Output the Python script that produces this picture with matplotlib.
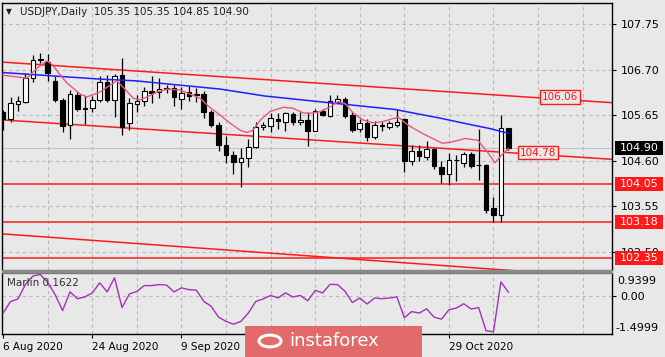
import matplotlib
matplotlib.use('Agg')
import matplotlib.pyplot as plt
import matplotlib.transforms as mtransforms
from matplotlib.patches import Rectangle, Circle
import pandas as pd

# ---------------- data ----------------
dates = pd.bdate_range('2020-08-06', '2020-11-10')

opens = [105.72, 105.55, 105.90, 105.96, 106.50, 106.94, 106.88, 106.43, 105.99, 105.42,
         106.11, 105.80, 105.82, 105.99, 106.42, 106.00, 106.57, 105.46, 105.90, 105.97,
         106.20, 106.18, 106.28, 106.27, 106.03, 106.18, 106.13, 106.13, 105.72, 105.43,
         104.96, 104.73, 104.56, 104.65, 104.92, 105.38, 105.40, 105.55, 105.50, 105.68,
         105.48, 105.53, 105.29, 105.75, 105.63, 105.96, 106.01, 105.65, 105.33, 105.47,
         105.14, 105.43, 105.38, 105.42, 105.55, 104.58, 104.83, 104.69, 104.86, 104.46,
         104.30, 104.61, 104.55, 104.75, 104.50, 104.50, 103.50, 103.35, 105.35]
highs = [105.76, 106.07, 106.10, 106.61, 107.03, 107.07, 107.05, 106.55, 106.05, 106.22,
         106.18, 106.10, 106.10, 106.55, 106.57, 106.60, 106.97, 106.05, 106.12, 106.30,
         106.55, 106.50, 106.35, 106.35, 106.30, 106.33, 106.28, 106.20, 105.76, 105.48,
         105.17, 104.82, 104.90, 105.10, 105.49, 105.48, 105.70, 105.70, 105.73, 105.73,
         105.72, 105.72, 105.80, 105.80, 106.12, 106.11, 106.07, 105.73, 105.57, 105.55,
         105.52, 105.50, 105.52, 105.78, 105.58, 104.95, 104.95, 105.05, 104.88, 104.58,
         104.77, 104.73, 104.80, 104.80, 105.34, 104.53, 103.76, 105.65, 105.35]
lows = [105.30, 105.48, 105.75, 105.93, 106.42, 106.85, 106.44, 105.95, 105.25, 105.10,
        105.75, 105.45, 105.73, 105.95, 105.95, 105.60, 105.20, 105.30, 105.72, 105.85,
        105.93, 106.05, 106.15, 105.87, 105.80, 105.98, 105.95, 105.58, 105.38, 104.83,
        104.55, 104.30, 104.00, 104.45, 104.88, 105.30, 105.26, 105.33, 105.28, 105.42,
        105.42, 104.94, 105.28, 105.62, 105.60, 105.92, 105.58, 105.25, 105.26, 105.05,
        105.10, 105.28, 105.33, 105.38, 104.34, 104.50, 104.58, 104.62, 104.40, 104.08,
        104.03, 104.12, 104.45, 104.42, 104.15, 103.40, 103.18, 103.19, 104.85]
closes = [105.56, 105.94, 105.97, 106.50, 106.92, 106.92, 106.61, 105.99, 105.40, 106.13,
          105.80, 105.82, 106.00, 106.42, 106.00, 106.55, 105.38, 105.92, 105.97, 106.20,
          106.17, 106.24, 106.25, 106.07, 106.15, 106.10, 106.12, 105.71, 105.43, 104.96,
          104.73, 104.56, 104.66, 104.92, 105.38, 105.42, 105.58, 105.52, 105.69, 105.48,
          105.53, 105.28, 105.74, 105.66, 105.97, 106.03, 105.62, 105.30, 105.47, 105.14,
          105.43, 105.40, 105.46, 105.50, 104.60, 104.83, 104.70, 104.86, 104.48, 104.30,
          104.61, 104.62, 104.75, 104.48, 104.51, 103.47, 103.35, 105.35, 104.90]

# blue moving average (bar position, price)
blue_pos = [0, 13.0, 17.8, 29.2, 35.2, 43.6, 52.7, 58.8, 63.2, 65.5, 68.0]
blue_val = [106.63, 106.48, 106.44, 106.25, 106.09, 105.94, 105.78, 105.58, 105.42, 105.34, 105.23]

# pink moving average (bar position, price)
pink_pos = [0, 3.2, 4.6, 5.9, 6.7, 7.7, 8.6, 10.4, 11.3, 13.0, 14.4, 15.3, 16.1, 17.5, 18.4,
            19.4, 20.7, 22.1, 23.8, 25.2, 26.5, 27.8, 29.2, 30.5, 31.9, 32.8, 33.6, 34.6,
            35.9, 37.7, 39.0, 40.4, 41.3, 42.7, 44.0, 45.1, 46.0, 47.1, 48.4, 49.8, 51.1,
            52.5, 53.2, 54.5, 56.4, 59.1, 60.4, 62.2, 63.9, 65.3, 66.2, 67.1, 68.0]
pink_val = [106.57, 106.50, 106.74, 106.90, 106.80, 106.57, 106.39, 106.13, 106.07, 106.18,
            106.34, 106.44, 106.30, 106.04, 106.00, 106.07, 106.18, 106.25, 106.23, 106.13,
            106.04, 105.83, 105.65, 105.47, 105.30, 105.25, 105.30, 105.53, 105.73, 105.83,
            105.81, 105.70, 105.69, 105.73, 105.84, 105.96, 105.92, 105.70, 105.54, 105.47,
            105.50, 105.57, 105.60, 105.42, 105.23, 105.00, 105.03, 105.11, 105.07, 104.77,
            104.55, 104.73, 104.88]

# Marlin oscillator (one value per bar)
marlin = [-0.67, -0.21, -0.11, 0.46, 0.80, 0.86, 0.55, 0.06, -0.57, 0.17,
          -0.10, -0.03, 0.13, 0.53, 0.17, 0.73, -0.45, 0.09, 0.19, 0.42,
          0.42, 0.46, 0.44, 0.17, 0.33, 0.26, 0.24, -0.20, -0.40, -0.83,
          -1.00, -1.11, -1.00, -0.67, -0.21, -0.11, 0.03, -0.07, 0.13, -0.03,
          0.03, -0.18, 0.23, 0.13, 0.47, 0.46, 0.20, -0.25, -0.07, -0.31,
          -0.07, -0.10, -0.07, -0.03, -0.85, -0.61, -0.67, -0.50, -0.83, -0.91,
          -0.54, -0.47, -0.30, -0.51, -0.45, -1.37, -1.41, 0.57, 0.16]

# trend lines: (bar, price) end points
upper_line = ([0, 82], [106.87, 105.935])
middle_line = ([0, 82], [105.537, 104.63])
lower_line = ([0, 82], [102.91, 101.90])
levels = [104.05, 103.18, 102.35]
bid = 104.90

price_ticks = [102.50, 103.55, 104.60, 105.65, 106.70, 107.75]
date_ticks = [0, 12, 24, 36, 48, 60]
date_shown = [True, True, True, False, False, True]   # two labels hidden under the logo
grid_x = [6, 12, 18, 24, 30, 36, 42, 48, 54, 60, 66, 72, 78]

title = "USDJPY,Daily  105.35 105.35 104.85 104.90"
ind_title = "Marlin 0.1622"

# ---------------- layout ----------------
W, H = 665, 357
BG = '#e8e8e8'
GRID = '#b9b9b9'
plt.rcParams['font.family'] = ['DejaVu Sans']

fig = plt.figure(figsize=(W / 100, H / 100), dpi=100, facecolor=BG)


def fx(px):
    return px / W


def fy(py):
    return 1 - py / H


ax = fig.add_axes([fx(2), fy(269.5), fx(612) - fx(2), fy(3) - fy(269.5)], facecolor=BG)
ax2 = fig.add_axes([fx(2), fy(334), fx(612) - fx(2), fy(272.5) - fy(334)], facecolor=BG)

xmin, xmax = -0.15, 81.95
ax.set_xlim(xmin, xmax)
ax.set_ylim(102.09, 108.234)
ax2.set_xlim(xmin, xmax)
ax2.set_ylim(-1.4999, 0.9399)

# grid
for g in grid_x:
    ax.axvline(g, color=GRID, lw=0.8, ls=(0, (3, 3)), zorder=0.5)
    ax2.axvline(g, color=GRID, lw=0.8, ls=(0, (3, 3)), zorder=0.5)
for p in price_ticks:
    ax.axhline(p, color=GRID, lw=0.8, ls=(0, (3, 3)), zorder=0.5)
ax2.axhline(0.0, color=GRID, lw=0.8, ls=(0, (3, 3)), zorder=0.5)

# bid line
ax.axhline(bid, color='#c4c4c4', lw=0.8, zorder=0.6)

# horizontal levels
for lv in levels:
    ax.axhline(lv, color='#ff1a1a', lw=1.1, zorder=2)


def extend(line):
    (x0, x1), (y0, y1) = line
    s = (y1 - y0) / (x1 - x0)
    return [xmin, xmax], [y0 + s * (xmin - x0), y0 + s * (xmax - x0)]


for ln in (upper_line, middle_line, lower_line):
    xs, ys = extend(ln)
    ax.plot(xs, ys, color='#ff1a1a', lw=1.1, zorder=2)

# candles
idx = list(range(len(dates)))
for i in idx:
    o, h, l, c = opens[i], highs[i], lows[i], closes[i]
    ax.plot([i, i], [l, h], color='black', lw=0.9, zorder=3, solid_capstyle='butt')
    bottom = min(o, c)
    height = abs(c - o)
    fc = 'white' if c > o else 'black'
    ax.bar(i, height, bottom=bottom, width=0.62, color=fc, edgecolor='black',
           linewidth=0.8, zorder=3.5)

# moving averages
ax.plot(blue_pos, blue_val, color='#1f1fff', lw=1.1, zorder=4)
ax.plot(pink_pos, pink_val, color='#e8577f', lw=1.0, zorder=4)

# trend line price labels
for (xc, yc, txt) in [(74.95, 106.066, '106.06'), (72.0, 104.787, '104.78')]:
    ax.text(xc, yc, txt, color='#ff1a1a', fontsize=7.5, ha='center', va='center', zorder=6,
            bbox=dict(boxstyle='square,pad=0.15', fc=BG, ec='#ff1a1a', lw=1))

# axes styling main
for s in ax.spines.values():
    s.set_color('black')
    s.set_linewidth(1)
ax.spines['bottom'].set_color('#7a7a7a')
ax.set_xticks([])
ax.yaxis.tick_right()
ax.set_yticks(price_ticks)
ax.set_yticklabels([f'{p:.2f}' for p in price_ticks])
ax.tick_params(axis='y', direction='out', length=3, width=0.8, labelsize=8, pad=3,
               colors='black')

# price boxes on the axis
bt = mtransforms.blended_transform_factory(ax.transAxes, ax.transData)
box_w = 48 / 610
box_h = 14 / 43.37
for (p, txt, fc) in [(bid, '104.90', 'black'), (104.05, '104.05', '#ff1a1a'),
                     (103.18, '103.18', '#ff1a1a'), (102.35, '102.35', '#ff1a1a')]:
    ax.add_patch(Rectangle((1.005, p - box_h / 2), box_w, box_h, transform=bt,
                           facecolor=fc, edgecolor='none', clip_on=False, zorder=10))
    ax.text(1.005 + box_w / 2, p, txt, transform=bt, color='white', fontsize=8,
            ha='center', va='center', clip_on=False, zorder=11)

# title
ax.text(0.006, 0.967, '\u25bc', transform=ax.transAxes, fontsize=5.5, color='#202020',
        ha='left', va='center')
ax.text(0.030, 0.967, title, transform=ax.transAxes, fontsize=7.5, color='#202020',
        ha='left', va='center')

# indicator
ax2.plot(idx, marlin, color='#a431b8', lw=1.0, zorder=3)
for s in ax2.spines.values():
    s.set_color('black')
    s.set_linewidth(1)
ax2.spines['top'].set_color('#7a7a7a')
ax2.yaxis.tick_right()
ax2.set_yticks([0.0])
ax2.set_yticklabels(['0.00'])
ax2.tick_params(axis='y', direction='out', length=3, width=0.8, labelsize=8, pad=3)
ax2.text(1.008, 0.862, '0.9399', transform=ax2.transAxes, fontsize=8, ha='left', va='center')
ax2.text(1.006, 0.093, '-1.4999', transform=ax2.transAxes, fontsize=8, ha='left', va='center')
ax2.text(0.009, 0.83, ind_title, transform=ax2.transAxes, fontsize=7.5, color='#303030',
         ha='left', va='center')

ax2.set_xticks(date_ticks)
ax2.set_xticklabels([dates[i].strftime('%-d %b %Y') if show else ''
                     for i, show in zip(date_ticks, date_shown)], ha='left')
ax2.tick_params(axis='x', direction='out', length=3, width=0.8, labelsize=7.5, pad=3)

# separator band between panels
fig.add_artist(Rectangle((fx(2), fy(272.5)), fx(612) - fx(2), fy(269.5) - fy(272.5),
                         transform=fig.transFigure, facecolor='#8a8a8a', edgecolor='none'))

# instaforex logo
fig.add_artist(Rectangle((fx(245), 0), fx(422) - fx(245), fy(325.5), transform=fig.transFigure,
                         facecolor='#e36a6a', edgecolor='none', zorder=20))
fig.add_artist(Circle((fx(270), fy(341)), 11 / W, transform=fig.transFigure,
                      facecolor='none', edgecolor='white', lw=2.2, zorder=21))
fig.text(fx(289), fy(341.5), 'instaforex', color='white', fontsize=13, ha='left', va='center',
         zorder=22)

fig.savefig('out.png', dpi=100, facecolor=BG)
